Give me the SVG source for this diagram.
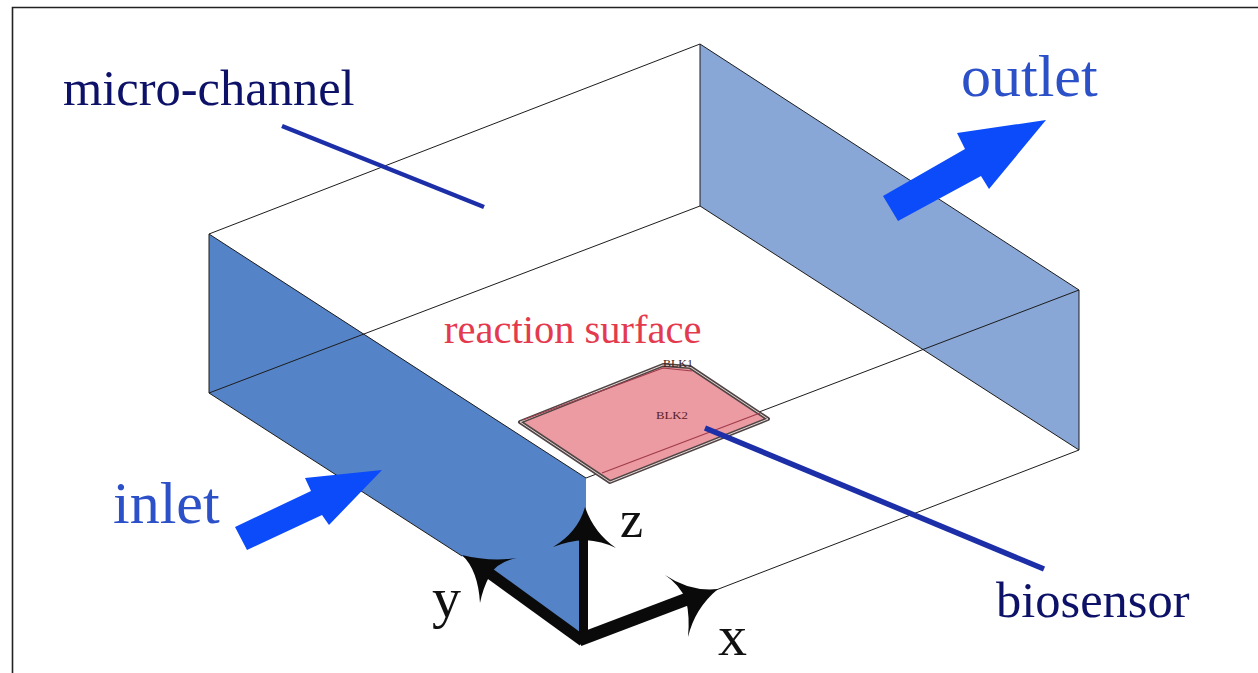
<svg xmlns="http://www.w3.org/2000/svg" width="1258" height="673" viewBox="0 0 1258 673">
<defs>
<style>
.serif{font-family:"Liberation Serif","Times New Roman",serif}
.edge{fill:none;stroke:#1c1c1c;stroke-width:1}
.axis{fill:none;stroke:#0a0a0a;stroke-linecap:butt}
.head{fill:#0a0a0a}
.leader{fill:none;stroke:#1c2fa8;stroke-width:4.500}
.flow{fill:#0c4bfa}
</style>
</defs>
<rect width="1258" height="673" fill="#ffffff"/>
<path d="M12.500 673V7.500H1258" fill="none" stroke="#222" stroke-width="1.600"/>
<g id="channel">
<polygon points="209,234 586,478 586,636 462,556 209,393" fill="#5583c8"/>
<polygon points="700,44 1079,290 1079,450 700,206" fill="#88a6d6"/>
</g>
<g id="connectors">
<path class="edge" d="M209,234L700,44L1079,290L586,478L209,234V393L700,206L1079,450L716,590M700,44V206M1079,290V450M209,393L462,556"/>
</g>
<g id="biosensor">
<polygon points="520,422 663,365 690,367 768,419 610,482" fill="#ec9ba2" stroke="#4f4545" stroke-width="4" stroke-linejoin="round"/>
<polygon points="520,422 663,365 690,367 768,419 610,482" fill="none" stroke="#e6d6d6" stroke-width="1"/>
<path d="M523,420L663,368L692,371M602,473L760,413" fill="none" stroke="#a03c4a" stroke-width="1.200"/>
<text class="serif" x="663" y="367" font-size="10" fill="#3a2020" textLength="30" lengthAdjust="spacingAndGlyphs">BLK1</text>
<text class="serif" x="656" y="419" font-size="10" fill="#5a2028" textLength="32" lengthAdjust="spacingAndGlyphs">BLK2</text>
</g>
<g id="leaders">
<path class="leader" d="M282,126L484,207"/>
<path class="leader" d="M705,428L1044,569" style="stroke-width:5.500"/>
</g>
<g id="flow-arrows">
<polygon class="flow" points="883,196 965,149 957,133 1046,120 989,189 981,176 898,221"/>
<polygon class="flow" points="235,527 311,491 305,478 382,470 329,525 322,515 247,550"/>
</g>
<g id="axes">
<path class="axis" stroke-width="9" d="M583.500,643V535"/>
<path class="axis" stroke-width="11" d="M583,641L485,570"/>
<path class="axis" stroke-width="13" d="M579,640L695,596"/>
<path class="head" d="M585,507Q578,532 553,547Q568,541 585,540Q602,541 616,548Q594,533 585,507Z"/>
<path class="head" d="M462,555Q490,562 517,558Q497,562 490,575Q483,588 480,603Q478,570 462,555Z"/>
<path class="head" d="M718,589Q690,592 665,575Q680,585 686,600Q690,617 688,637Q695,608 718,589Z"/>
</g>
<g id="labels">
<text class="serif" x="63" y="105" font-size="50.500" fill="#0d1268">micro-channel</text>
<text class="serif" x="961" y="96" font-size="60" fill="#2c50c8">outlet</text>
<text class="serif" x="113" y="523" font-size="60" fill="#2c50c8">inlet</text>
<text class="serif" x="444" y="343" font-size="40.500" fill="#e43a4e">reaction surface</text>
<text class="serif" x="996" y="617" font-size="50.500" fill="#0d1268">biosensor</text>
<text class="serif" x="620" y="537" font-size="52" fill="#111">z</text>
<text class="serif" x="432" y="617" font-size="58" fill="#111">y</text>
<text class="serif" x="718" y="655" font-size="58" fill="#111">x</text>
</g>
</svg>
